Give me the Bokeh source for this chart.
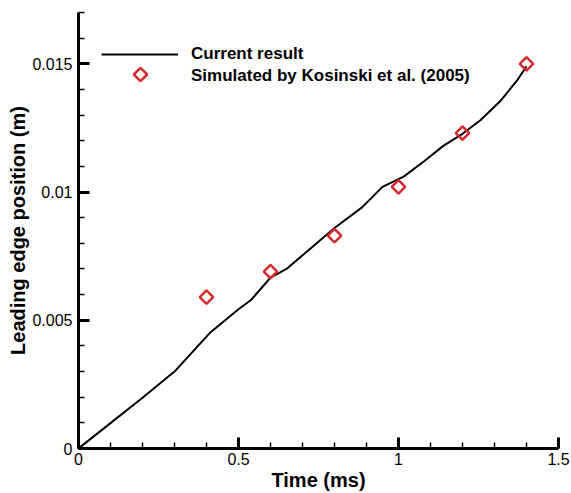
import numpy as np
from bokeh.plotting import figure
from bokeh.models import (Range1d, SingleIntervalTicker, CustomJSTickFormatter,
                          Legend, LegendItem, PolyAnnotation)
from bokeh.embed import file_html
from bokeh.resources import INLINE

# ---- data ----
time_line = [0, 0.1, 0.2, 0.3, 0.41, 0.5, 0.54, 0.6, 0.65, 0.725, 0.8, 0.886,
             0.95, 1.016, 1.08, 1.14, 1.2, 1.256, 1.32, 1.37, 1.4]
pos_line = [0, 0.00099, 0.00198, 0.0030, 0.0045, 0.00543, 0.0058, 0.00666,
            0.0070, 0.0078, 0.0086, 0.0094, 0.0102, 0.0106, 0.0112, 0.0118,
            0.01227, 0.0128, 0.01357, 0.01434, 0.0149]

time_sim = [0.4, 0.6, 0.8, 1.0, 1.2, 1.4]
pos_sim = [0.0059, 0.0069, 0.0083, 0.0102, 0.0123, 0.0150]

legend_labels = ["Current result", "Simulated by Kosinski et al. (2005)"]
x_label = "Time (ms)"
y_label = "Leading edge position (m)"

FONT = "Liberation Sans"
RED = "#d42a2e"

p = figure(width=571, height=493, output_backend="svg", toolbar_location=None,
           x_range=Range1d(0, 1.5), y_range=Range1d(0, 0.017),
           min_border_left=78, min_border_right=13, min_border_top=12,
           min_border_bottom=43)
p.outline_line_color = None
p.xgrid.visible = False
p.ygrid.visible = False
p.background_fill_color = "white"
p.border_fill_color = "white"

fmt = CustomJSTickFormatter(code="return parseFloat(tick.toPrecision(6)).toString();")

p.xaxis.ticker = SingleIntervalTicker(interval=0.5, num_minor_ticks=5)
p.yaxis.ticker = SingleIntervalTicker(interval=0.005, num_minor_ticks=5)
for ax in (p.xaxis, p.yaxis):
    ax.formatter = fmt
    ax.axis_line_width = 3
    ax.axis_line_color = "black"
    ax.major_tick_in = 11
    ax.major_tick_out = 0
    ax.minor_tick_in = 6
    ax.minor_tick_out = 0
    ax.major_tick_line_width = 3
    ax.minor_tick_line_width = 1.5
    ax.major_tick_line_color = "black"
    ax.minor_tick_line_color = "black"
    ax.major_label_text_font = FONT
    ax.major_label_text_font_size = "16px"
    ax.major_label_text_color = "black"
    ax.axis_label_text_font = FONT
    ax.axis_label_text_font_size = "20px"
    ax.axis_label_text_font_style = "bold"
    ax.axis_label_text_color = "black"

p.xaxis.axis_label = x_label
p.yaxis.axis_label = y_label
p.xaxis.major_label_standoff = 4
p.xaxis.axis_label_standoff = 1
p.yaxis.major_label_standoff = 6
p.yaxis.axis_label_standoff = 0

r_line = p.line(time_line, pos_line, line_color="black", line_width=2)
r_sim = p.scatter(time_sim, pos_sim, marker="square", angle=np.pi / 4, size=9.5,
                  fill_color=None, line_color=RED, line_width=2.5)

# legend entry for the simulated points: invisible placeholder glyph, diamond drawn as annotation
r_sim_leg = p.scatter([], [], marker="square", fill_alpha=0, line_alpha=0)

legend = Legend(items=[LegendItem(label=legend_labels[0], renderers=[r_line]),
                       LegendItem(label=legend_labels[1], renderers=[r_sim_leg])],
                location=(23, 362), orientation="vertical")
legend.border_line_color = None
legend.background_fill_alpha = 0
legend.padding = 0
legend.margin = 0
legend.spacing = 2
legend.glyph_width = 77
legend.glyph_height = 20
legend.label_height = 20
legend.label_standoff = 13
legend.label_text_font = FONT
legend.label_text_font_size = "17px"
legend.label_text_font_style = "bold"
legend.label_text_color = "black"
p.add_layout(legend, "center")

# legend diamond symbol (screen units, relative to the frame)
cx, cy, hr = 62, 374, 6.7
p.add_layout(PolyAnnotation(xs=[cx, cx + hr, cx, cx - hr], ys=[cy + hr, cy, cy - hr, cy],
                            xs_units="screen", ys_units="screen",
                            fill_alpha=0, line_color=RED, line_alpha=1.0,
                            line_width=2.5))

open("out.html", "w").write(file_html(p, INLINE))
